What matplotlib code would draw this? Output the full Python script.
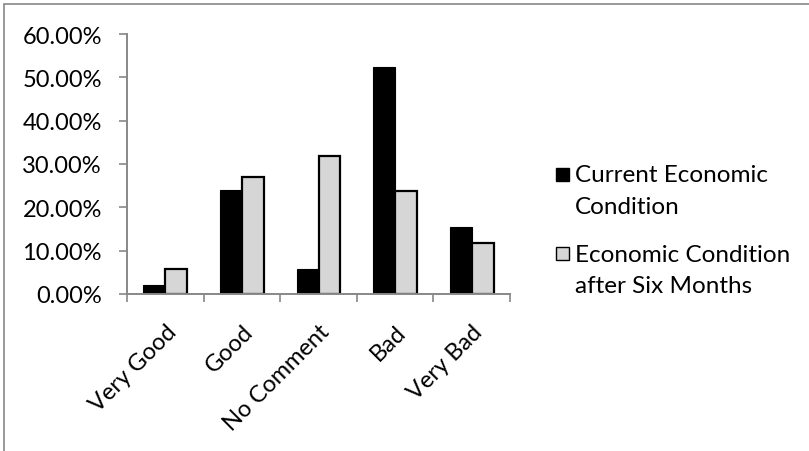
import matplotlib
matplotlib.use("Agg")
import matplotlib.pyplot as plt
import matplotlib.patches as mpatches
from matplotlib.ticker import FuncFormatter
import numpy as np

plt.rcParams['font.family'] = ['Lato', 'DejaVu Sans']

categories = ["Very Good", "Good", "No Comment", "Bad", "Very Bad"]
current = [2.15, 24.0, 5.8, 52.3, 15.5]      # Current Economic Condition (%)
after_six = [5.8, 27.1, 31.8, 23.8, 11.8]    # Economic Condition after Six Months (%)
labels = [["Current Economic", "Condition"], ["Economic Condition", "after Six Months"]]

fs = 17
W, H = 809, 452
fig = plt.figure(figsize=(W/100, H/100), dpi=100)
ax = fig.add_axes([127/W, 1-295/H, 383/W, 260/H])

x = np.arange(len(categories))
w = 0.286
grey = '#d6d6d6'
b1 = ax.bar(x - w/2, current, width=w, color='black', edgecolor='black', linewidth=0.8)
b2 = ax.bar(x + w/2, after_six, width=w, color=grey, edgecolor='black', linewidth=1.6)

ax.set_xlim(-0.5, len(categories) - 0.5)
ax.set_ylim(0, 60)
ax.set_yticks(np.arange(0, 61, 10))
ax.yaxis.set_major_formatter(FuncFormatter(lambda v, p: '{:.2f}%'.format(v)))

# category boundaries as ticks, like Excel
ax.set_xticks(np.arange(-0.5, len(categories)), minor=False)
ax.set_xticklabels([])
ax.set_xticks(x, minor=True)
ax.set_xticklabels(categories, minor=True, rotation=45, ha='right', rotation_mode='anchor', fontsize=fs)
ax.tick_params(axis='x', which='minor', length=0, pad=19)
ax.tick_params(axis='x', which='major', length=6, width=1.2, color='#888888', direction='out')
ax.tick_params(axis='y', length=6, width=1.2, color='#888888', labelsize=fs, pad=12)

for s in ['top', 'right']:
    ax.spines[s].set_visible(False)
for s in ['left', 'bottom']:
    ax.spines[s].set_color('#888888')
    ax.spines[s].set_linewidth(1.4)

# Excel style legend: square aligned with the first line of each label
leg_rows = [(b1, 175, [182, 214]), (b2, 254, [262, 293])]
for (bars, sq_y, baselines), lab in zip(leg_rows, labels):
    p = bars.patches[0]
    fig.add_artist(mpatches.Rectangle((556/W, 1-(sq_y+6.5)/H), 13/W, 13/H, transform=fig.transFigure,
                                      facecolor=p.get_facecolor(), edgecolor='black', linewidth=1.0))
    for line, yb in zip(lab, baselines):
        fig.text(575/W, 1-yb/H, line, fontsize=17.5, va='baseline', ha='left')

# outer chart border (only top and left visible)
fig.add_artist(mpatches.Rectangle((4/W, -0.2), 1.2, 1.2 - 5/H, transform=fig.transFigure,
                                  fill=False, edgecolor='#888888', linewidth=1.2))

fig.savefig("out.png", dpi=100)
